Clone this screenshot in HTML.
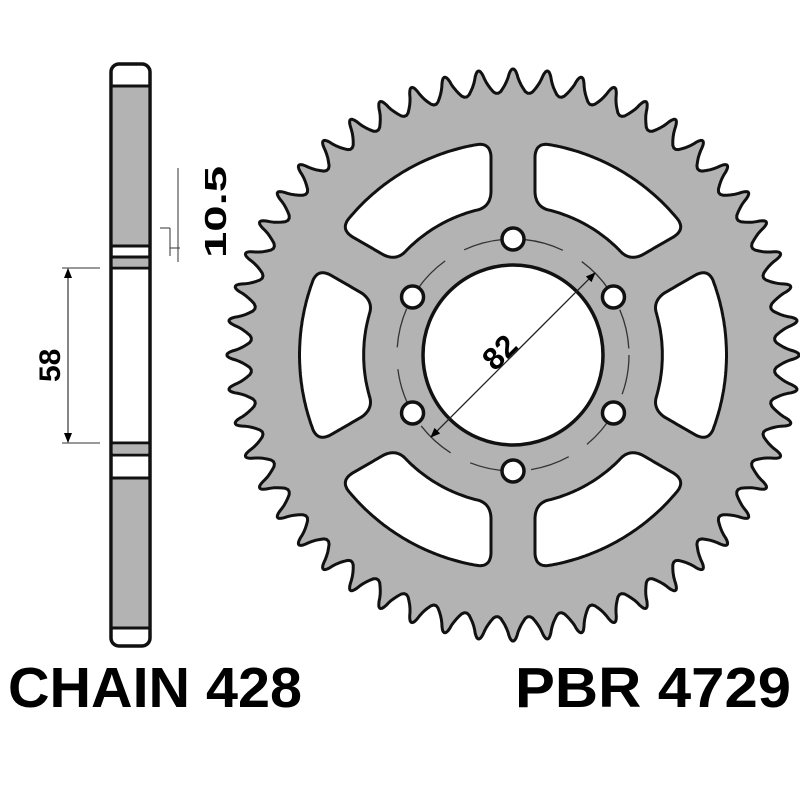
<!DOCTYPE html>
<html><head><meta charset="utf-8"><style>html,body{margin:0;padding:0;background:#fff;width:800px;height:800px;overflow:hidden}</style></head>
<body>
<svg id="s" width="800" height="800" viewBox="0 0 800 800" xmlns="http://www.w3.org/2000/svg">
<defs>
<marker id="ar" markerWidth="10" markerHeight="10" refX="9" refY="5" orient="auto" markerUnits="userSpaceOnUse"><path d="M0,1 L10,5 L0,9 z" fill="#000"/></marker>
</defs>
<g id="gear"></g>
<rect x="111" y="64" width="39" height="582" rx="8" fill="#fff" stroke="#111" stroke-width="3.5"/>
<rect x="113" y="86" width="35" height="160" fill="#b3b3b3"/>
<line x1="111" y1="86" x2="150" y2="86" stroke="#111" stroke-width="3"/>
<line x1="111" y1="246" x2="150" y2="246" stroke="#111" stroke-width="3"/>
<rect x="113" y="258" width="35" height="8" fill="#b3b3b3"/>
<line x1="111" y1="257" x2="150" y2="257" stroke="#111" stroke-width="3"/>
<line x1="111" y1="268" x2="150" y2="268" stroke="#111" stroke-width="3"/>
<rect x="113" y="445" width="35" height="8" fill="#b3b3b3"/>
<line x1="111" y1="443" x2="150" y2="443" stroke="#111" stroke-width="3"/>
<line x1="111" y1="455" x2="150" y2="455" stroke="#111" stroke-width="3"/>
<rect x="113" y="478" width="35" height="150" fill="#b3b3b3"/>
<line x1="111" y1="478" x2="150" y2="478" stroke="#111" stroke-width="3"/>
<line x1="111" y1="628" x2="150" y2="628" stroke="#111" stroke-width="3"/>
<line x1="170" y1="248" x2="180" y2="248" stroke="#333" stroke-width="1"/>
<line x1="170" y1="228" x2="170" y2="256" stroke="#333" stroke-width="1"/>
<line x1="178" y1="168" x2="178" y2="262" stroke="#333" stroke-width="1"/>
<line x1="160" y1="228" x2="170" y2="228" stroke="#333" stroke-width="1"/>
<text transform="translate(226,258) rotate(-90)" font-family="Liberation Sans, sans-serif" font-weight="bold" font-size="31" textLength="92" lengthAdjust="spacingAndGlyphs">10.5</text>
<line x1="62" y1="268" x2="100" y2="268" stroke="#333" stroke-width="1"/>
<line x1="62" y1="443" x2="100" y2="443" stroke="#333" stroke-width="1"/>
<line x1="68" y1="355" x2="68" y2="269" stroke="#333" stroke-width="1.2" marker-end="url(#ar)"/>
<line x1="68" y1="355" x2="68" y2="442" stroke="#333" stroke-width="1.2" marker-end="url(#ar)"/>
<text transform="translate(60,382) rotate(-90)" font-family="Liberation Sans, sans-serif" font-weight="bold" font-size="30">58</text>
<text x="8" y="707" font-family="Liberation Sans, sans-serif" font-weight="bold" font-size="57" textLength="294" lengthAdjust="spacingAndGlyphs">CHAIN 428</text>
<text x="515" y="707" font-family="Liberation Sans, sans-serif" font-weight="bold" font-size="57" textLength="276" lengthAdjust="spacingAndGlyphs">PBR 4729</text>
</svg>
<script>
(function(){
var cx=513,cy=355,N=52,Rt=285,Rr=262;
var g=document.getElementById('gear'),ns='http://www.w3.org/2000/svg';
function el(t,a){var e=document.createElementNS(ns,t);for(var k in a)e.setAttribute(k,a[k]);g.appendChild(e);return e;}
function chaikin(pts,n){for(var it=0;it<n;it++){var q=[];for(var m=0;m<pts.length;m++){var a=pts[m],b=pts[(m+1)%pts.length];q.push([a[0]*0.75+b[0]*0.25,a[1]*0.75+b[1]*0.25]);q.push([a[0]*0.25+b[0]*0.75,a[1]*0.25+b[1]*0.75]);}pts=q;}return pts;}
function toD(pts){return 'M'+pts.map(function(p){return p[0].toFixed(1)+','+p[1].toFixed(1)}).join('L')+'Z';}
var tp=[];
for(var i=0;i<N;i++){
 var a0=(i/N)*2*Math.PI-Math.PI/2, p=2*Math.PI/N;
 var pr=[[a0-p*0.5,Rr-3],[a0-p*0.2,Rr+10],[a0-p*0.07,Rt+1],[a0+p*0.07,Rt+1],[a0+p*0.2,Rr+10]];
 for(var j=0;j<pr.length;j++)tp.push([cx+pr[j][1]*Math.cos(pr[j][0]),cy+pr[j][1]*Math.sin(pr[j][0])]);
}
tp=chaikin(tp,2);
el('path',{d:toD(tp),fill:'#b3b3b3',stroke:'#111','stroke-width':3,'stroke-linejoin':'round'});
var ri=150,ro=214,off=22;
function P(ang,r){return [cx+r*Math.cos(ang),cy+r*Math.sin(ang)];}
for(var w=0;w<6;w++){
 var th=(30+60*w)*Math.PI/180-Math.PI/2;
 var sl=th-Math.PI/6, sr=th+Math.PI/6;
 function lineP(phi,r,sgn){var al=Math.sqrt(r*r-off*off);var ux=Math.cos(phi),uy=Math.sin(phi);var nx=-uy*sgn,ny=ux*sgn;return [cx+al*ux+off*nx,cy+al*uy+off*ny];}
 var pts=[];var S=2;
 for(var k=0;k<=S;k++){var r=ri+(ro-ri)*k/S;pts.push(lineP(sl,r,1));}
 var A1=Math.atan2(pts[S][1]-cy,pts[S][0]-cx);
 var rp=lineP(sr,ro,-1),A2=Math.atan2(rp[1]-cy,rp[0]-cx); if(A2<A1)A2+=2*Math.PI;
 for(var k=1;k<6;k++){pts.push(P(A1+(A2-A1)*k/6,ro));}
 for(var k=S;k>=0;k--){var r=ri+(ro-ri)*k/S;pts.push(lineP(sr,r,-1));}
 var ip=lineP(sl,ri,1),B1=Math.atan2(pts[pts.length-1][1]-cy,pts[pts.length-1][0]-cx),B2=Math.atan2(ip[1]-cy,ip[0]-cx);
 if(B1<B2)B1+=2*Math.PI;
 for(var k=1;k<4;k++){pts.push(P(B1+(B2-B1)*k/4,ri));}
 pts=chaikin(pts,4);
 el('path',{d:toD(pts),fill:'#fff',stroke:'#111','stroke-width':3});
}
el('circle',{cx:cx,cy:cy,r:116,fill:'none',stroke:'#333','stroke-width':1.3,'stroke-dasharray':'40 22'});
el('circle',{cx:cx,cy:cy,r:90,fill:'#fff',stroke:'#111','stroke-width':3.5});
for(var b=0;b<6;b++){var an=b*Math.PI/3-Math.PI/2;el('circle',{cx:cx+116*Math.cos(an),cy:cy+116*Math.sin(an),r:11,fill:'#fff',stroke:'#111','stroke-width':3.5});}
var e=116*Math.SQRT1_2;
el('line',{x1:cx,y1:cy,x2:cx+e,y2:cy-e,stroke:'#222','stroke-width':1.3,'marker-end':'url(#ar)'});
el('line',{x1:cx,y1:cy,x2:cx-e,y2:cy+e,stroke:'#222','stroke-width':1.3,'marker-end':'url(#ar)'});
var t=el('text',{transform:'translate(495,372) rotate(-45)','font-family':'Liberation Sans, sans-serif','font-weight':'bold','font-size':31});t.textContent='82';
})();
</script>
</body></html>
